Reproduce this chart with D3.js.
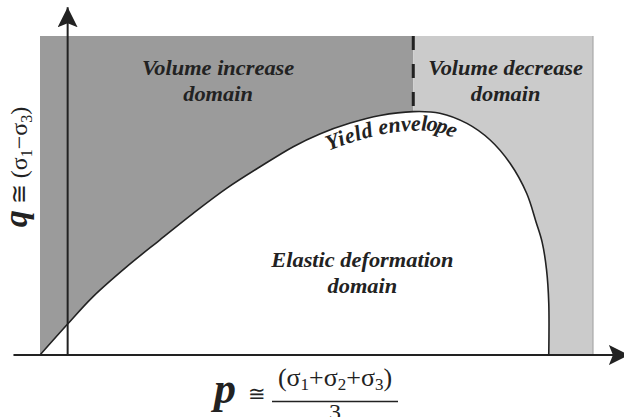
<!DOCTYPE html>
<html>
<head>
<meta charset="utf-8">
<script src="https://cdn.jsdelivr.net/npm/d3@7"></script>
</head>
<body style="margin:0; background:#fff">
<div id="chart"></div>
<script>
// yield envelope in p-q space (stress units)
const envelopeP = [-5, 0, 4.6, 10.7, 16.7, 22.7, 28.8, 34.8, 40.8, 45.6, 51.1, 56.5, 62.5,
                   67.3, 72.2, 76.4, 80.0, 83.0, 84.7, 85.8, 86.6, 87.0, 87.0];
const envelopeQ = [0, 9.7, 18.3, 27.7, 36.1, 44.4, 52.3, 59.0, 65.3, 69.3, 72.7, 75.1, 76.3,
                   75.8, 72.6, 67.4, 60.1, 50.7, 41.7, 35.4, 26.7, 16.3, 0];

// shaded domains: left edge, dilatancy boundary, right edge (p) and top (q)
const domainEdges = [-5, 62.5, 95];
const domainTop = 100;
const domainColors = ["#9b9b9b", "#cbcbcb"];

// zone labels: two lines each, anchored at (p, q) of first baseline
const zoneLines = [["Volume increase", "domain"], ["Volume decrease", "domain"], ["Elastic deformation", "domain"]];
const zoneP = [27.2, 79.2, 53.3];
const zoneQ = [87.8, 87.8, 27.6];

const envelopeLabel = "Yield envelope";
const envelopeLabelP = 46;

// axis extents (p, q)
const pAxisExtent = [-9.8, 101.5];
const qAxisExtent = [0, 109];

const width = 624, height = 417;
const serif = '"Liberation Serif", "Times New Roman", Times, serif';
const ink = "#222";

const svg = d3.select("#chart").append("svg")
  .attr("width", width)
  .attr("height", height);

const x = d3.scaleLinear().domain([-5, 95]).range([40, 593]);
const y = d3.scaleLinear().domain([0, 100]).range([355, 36]);

const pts = envelopeP.map((p, i) => [p, envelopeQ[i]]);

function label(sel) {
  return sel.style("font-family", serif).style("fill", ink);
}

// domains
svg.selectAll("rect.domain")
  .data(d3.pairs(domainEdges))
  .enter().append("rect")
  .attr("class", "domain")
  .attr("x", d => x(d[0]))
  .attr("y", y(domainTop))
  .attr("width", d => x(d[1]) - x(d[0]))
  .attr("height", y(0) - y(domainTop))
  .attr("fill", (d, i) => domainColors[i]);

svg.append("line")
  .attr("x1", x(domainEdges[2])).attr("x2", x(domainEdges[2]))
  .attr("y1", y(domainTop)).attr("y2", y(0))
  .attr("stroke", "#a9a9a9").attr("stroke-width", 1.2);

// elastic domain (white inside the envelope)
const curve = d3.curveCatmullRom.alpha(0.5);
svg.append("path")
  .datum(pts)
  .attr("fill", "#fff")
  .attr("d", d3.area().x(d => x(d[0])).y0(y(0)).y1(d => y(d[1])).curve(curve));

const env = svg.append("path")
  .datum(pts)
  .attr("id", "envelope")
  .attr("fill", "none")
  .attr("stroke", ink)
  .attr("stroke-width", 1.6)
  .attr("d", d3.line().x(d => x(d[0])).y(d => y(d[1])).curve(curve));

// dashed boundary between the two volume domains
const peakQ = d3.max(envelopeQ);
svg.append("line")
  .attr("x1", x(domainEdges[1])).attr("x2", x(domainEdges[1]))
  .attr("y1", y(domainTop)).attr("y2", y(peakQ))
  .attr("stroke", ink)
  .attr("stroke-width", 3)
  .attr("stroke-dasharray", "14,14");

// arrow marker
svg.append("defs").append("marker")
  .attr("id", "arrow")
  .attr("viewBox", "0 -10 20 20")
  .attr("refX", 20).attr("refY", 0)
  .attr("markerWidth", 20).attr("markerHeight", 20)
  .attr("markerUnits", "userSpaceOnUse")
  .attr("orient", "auto")
  .append("path")
  .attr("d", "M0,-10L20,0L0,10L4,0Z")
  .attr("fill", ink);

// axes
svg.append("line")
  .attr("x1", x(pAxisExtent[0])).attr("x2", x(pAxisExtent[1]))
  .attr("y1", y(0)).attr("y2", y(0))
  .attr("stroke", ink).attr("stroke-width", 2.2)
  .attr("marker-end", "url(#arrow)");

svg.append("line")
  .attr("x1", x(0)).attr("x2", x(0))
  .attr("y1", y(qAxisExtent[0])).attr("y2", y(qAxisExtent[1]))
  .attr("stroke", ink).attr("stroke-width", 2)
  .attr("marker-end", "url(#arrow)");

// zone labels (stretched a little, like the original)
zoneLines.forEach((lines, i) => {
  const g = svg.append("g")
    .attr("transform", `translate(${x(zoneP[i])},${y(zoneQ[i])}) scale(1.12,1)`);
  lines.forEach((t, j) => {
    g.append("text")
      .call(label)
      .style("font-weight", "bold").style("font-style", "italic").style("font-size", "20px")
      .attr("text-anchor", "middle")
      .attr("y", j * 26)
      .text(t);
  });
});

// label along the envelope
const node = env.node();
let lo = 0, hi = node.getTotalLength();
for (let k = 0; k < 40; k++) {
  const mid = (lo + hi) / 2;
  if (node.getPointAtLength(mid).x < x(envelopeLabelP)) lo = mid; else hi = mid;
}
svg.append("text")
  .call(label)
  .style("font-weight", "bold").style("font-style", "italic")
  .style("font-size", "22px")
  .style("letter-spacing", "1px")
  .attr("dy", 19)
  .append("textPath")
  .attr("href", "#envelope")
  .attr("startOffset", lo)
  .text(envelopeLabel);

// q axis title
const yl = svg.append("text")
  .call(label)
  .attr("transform", "translate(27,167) rotate(-90)")
  .attr("text-anchor", "middle");
yl.append("tspan").style("font-weight", "bold").style("font-style", "italic").style("font-size", "34px").text("q");
yl.append("tspan").style("font-size", "24px").text(" \u2245 (\u03c3");
yl.append("tspan").style("font-size", "16px").attr("dy", 5).text("1");
yl.append("tspan").style("font-size", "24px").attr("dy", -5).text("\u2212\u03c3");
yl.append("tspan").style("font-size", "16px").attr("dy", 5).text("3");
yl.append("tspan").style("font-size", "24px").attr("dy", -5).text(")");

// p axis title with fraction
svg.append("text")
  .call(label)
  .attr("x", 214).attr("y", 403)
  .style("font-weight", "bold").style("font-style", "italic").style("font-size", "44px")
  .text("p");
svg.append("text")
  .call(label)
  .attr("x", 257).attr("y", 401)
  .attr("text-anchor", "middle")
  .style("font-size", "21px")
  .text("\u2245");
const num = svg.append("text")
  .call(label)
  .attr("x", 335).attr("y", 386)
  .attr("text-anchor", "middle")
  .style("font-size", "26px");
num.append("tspan").text("(\u03c3");
num.append("tspan").style("font-size", "17px").attr("dy", 4).text("1");
num.append("tspan").attr("dy", -4).text("+\u03c3");
num.append("tspan").style("font-size", "17px").attr("dy", 4).text("2");
num.append("tspan").attr("dy", -4).text("+\u03c3");
num.append("tspan").style("font-size", "17px").attr("dy", 4).text("3");
num.append("tspan").attr("dy", -4).text(")");
svg.append("line")
  .attr("x1", 272).attr("x2", 398)
  .attr("y1", 401.5).attr("y2", 401.5)
  .attr("stroke", ink).attr("stroke-width", 1.3);
svg.append("text")
  .call(label)
  .attr("x", 335).attr("y", 420)
  .attr("text-anchor", "middle")
  .style("font-size", "24px")
  .text("3");
</script>
</body>
</html>
